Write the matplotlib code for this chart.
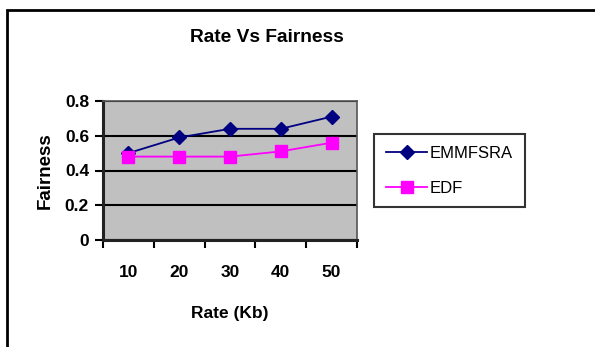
import matplotlib
matplotlib.use("Agg")
import matplotlib.pyplot as plt
from matplotlib.patches import Rectangle

rates = [10, 20, 30, 40, 50]
emmfsra = [0.50, 0.59, 0.64, 0.64, 0.71]
edf = [0.48, 0.48, 0.48, 0.51, 0.56]
y_ticks = [0, 0.2, 0.4, 0.6, 0.8]

plt.rcParams['font.family'] = ['Liberation Sans', 'DejaVu Sans']

W, H = 595, 347
fig = plt.figure(figsize=(W / 100, H / 100), dpi=100)
fig.patch.set_facecolor('white')

# outer chart frame (left and top edges visible)
fig.patches.append(Rectangle((7 / W, -0.05), 1.2, 1.05 - 10 / H,
                             transform=fig.transFigure, fill=False,
                             edgecolor='black', linewidth=2.0))

ax = fig.add_axes([103 / W, 1 - 240 / H, (357 - 103) / W, (240 - 101) / H])
ax.set_facecolor('#C0C0C0')

ax.plot(rates, emmfsra, color='#000080', marker='D', markersize=7,
        linewidth=1.3, label='EMMFSRA', zorder=3)
ax.plot(rates, edf, color='#FF00FF', marker='s', markersize=8,
        linewidth=1.3, label='EDF', zorder=3)

ax.set_xlim(5, 55)
ax.set_ylim(0, 0.8)
ax.set_yticks(y_ticks)
ax.set_yticklabels(['0', '0.2', '0.4', '0.6', '0.8'], fontsize=12.5, fontweight='bold')
ax.yaxis.grid(True, color='black', linewidth=1.5)
ax.set_axisbelow(True)

ax.set_xticks([5, 15, 25, 35, 45, 55])
ax.set_xticklabels([])
ax.set_xticks(rates, minor=True)
ax.set_xticklabels([str(r) for r in rates], minor=True, fontsize=12.5, fontweight='bold')
ax.tick_params(axis='x', which='minor', length=0, pad=18)
ax.tick_params(axis='x', which='major', length=6, width=1.5, direction='out')
ax.tick_params(axis='y', length=6, width=1.5, direction='out', pad=4)

for side in ['left', 'bottom']:
    ax.spines[side].set_linewidth(2.2)
    ax.spines[side].set_color('#222222')
for side in ['top', 'right']:
    ax.spines[side].set_linewidth(1.2)
    ax.spines[side].set_color('#555555')

ax.set_xlabel('Rate (Kb)', fontsize=12.5, fontweight='bold', labelpad=19)
ax.set_ylabel('Fairness', fontsize=13.5, fontweight='bold', labelpad=8)

fig.text(267 / W, 1 - 37 / H, 'Rate Vs Fairness', ha='center', va='center',
         fontsize=13.8, fontweight='bold')

leg = ax.legend(loc='upper left', bbox_to_anchor=(374 / W, 1 - 134 / H),
                bbox_transform=fig.transFigure, frameon=True, fancybox=False,
                edgecolor='black', fontsize=12, handlelength=2.5,
                borderpad=0.7, labelspacing=1.2, handletextpad=0.15,
                borderaxespad=0)
leg.get_frame().set_linewidth(1.5)

fig.savefig('out.png', dpi=100, facecolor='white')
